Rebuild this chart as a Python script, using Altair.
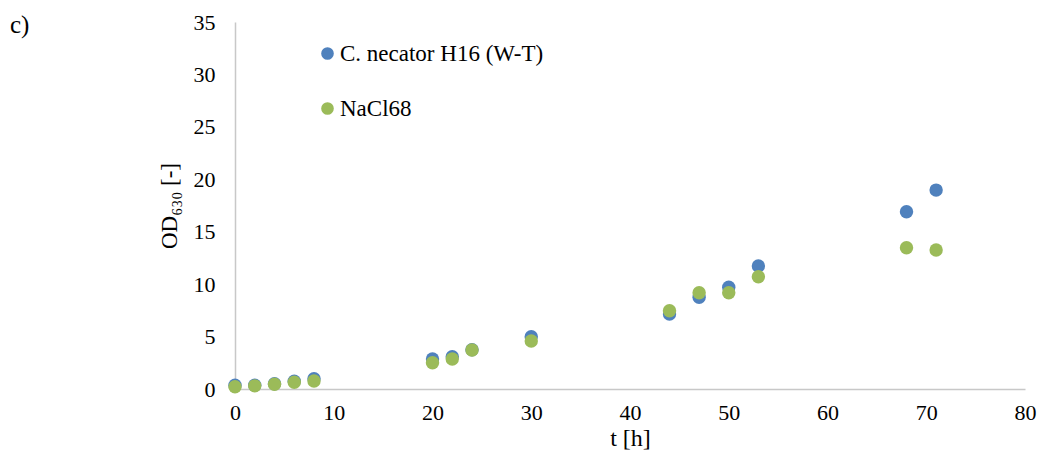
import altair as alt
import pandas as pd

series_names = ["C. necator H16 (W-T)", "NaCl68"]
colors = ["#4f81bd", "#9bbb59"]

t_wt = [0, 2, 4, 6, 8, 20, 22, 24, 30, 44, 47, 50, 53, 68, 71]
od_wt = [0.35, 0.35, 0.5, 0.75, 0.98, 2.86, 3.08, 3.75, 4.99, 7.15, 8.74, 9.7, 11.73, 16.9, 18.97]

t_nacl = [0, 2, 4, 6, 8, 20, 22, 24, 30, 44, 47, 50, 53, 68, 71]
od_nacl = [0.22, 0.3, 0.45, 0.64, 0.76, 2.5, 2.86, 3.72, 4.58, 7.47, 9.18, 9.18, 10.7, 13.47, 13.25]

x_ticks = [0, 10, 20, 30, 40, 50, 60, 70, 80]
y_ticks = [0, 5, 10, 15, 20, 25, 30, 35]

panel_label = "c)"

rows = []
for t, v in zip(t_wt, od_wt):
    rows.append({"t": t, "od": v, "series": series_names[0], "ord": 0})
for t, v in zip(t_nacl, od_nacl):
    rows.append({"t": t, "od": v, "series": series_names[1], "ord": 1})
df = pd.DataFrame(rows)

FONT = "Liberation Serif"

points = alt.Chart(df).mark_circle(size=180, opacity=1).encode(
    x=alt.X("t:Q", scale=alt.Scale(domain=[0, 80], nice=False),
            axis=alt.Axis(values=x_ticks, title="t [h]", grid=False, ticks=False,
                          labelFlush=False, labelPadding=13, titlePadding=3,
                          titleFontSize=24)),
    y=alt.Y("od:Q", scale=alt.Scale(domain=[0, 35], nice=False),
            axis=alt.Axis(values=y_ticks, title="OD₆₃₀ [-]", grid=False, ticks=False,
                          labelFlush=False, labelPadding=20, titlePadding=12,
                          titleFontSize=23)),
    color=alt.Color("series:N",
                    scale=alt.Scale(domain=series_names, range=colors),
                    legend=alt.Legend(title=None, orient="none", legendX=81, legendY=20,
                                      symbolType="circle", symbolSize=160, labelLimit=0,
                                      labelFontSize=23, labelFont=FONT, labelColor="black",
                                      rowPadding=31, labelOffset=1, padding=0)),
    order=alt.Order("ord:Q"),
)

label = alt.Chart(pd.DataFrame({"lab": [panel_label]})).mark_text(
    font=FONT, fontSize=25, color="black", align="left", baseline="alphabetic"
).encode(text="lab:N", x=alt.value(-225), y=alt.value(11))

chart = alt.layer(points, label).properties(
    width=790, height=367,
    autosize=alt.AutoSizeParams(type="none"),
    padding={"left": 235, "top": 22, "right": 15, "bottom": 63},
).configure_view(stroke=None).configure_axis(
    domainColor="#c8c8c8", domainWidth=1.5,
    labelFont=FONT, labelFontSize=22, labelColor="black",
    titleFont=FONT, titleFontSize=22, titleFontWeight="normal", titleColor="black",
)

chart.save("out.html", embed_options={"renderer": "svg", "actions": False})
